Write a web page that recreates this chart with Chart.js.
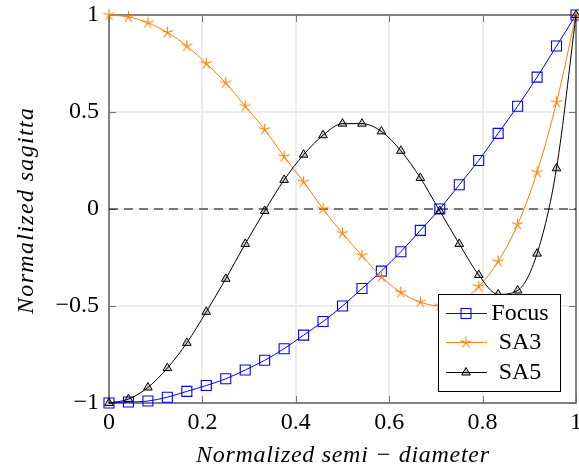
<!DOCTYPE html>
<html>
<head>
<meta charset="utf-8">
<script src="https://cdn.jsdelivr.net/npm/chart.js@4/dist/chart.umd.min.js"></script>
<style>
  html, body { margin: 0; padding: 0; background: #ffffff; }
  canvas { display: block; }
</style>
</head>
<body>
<canvas id="c" width="579" height="472"></canvas>
<script>
// ---- data ----
const xValues = [0, 0.0417, 0.0833, 0.125, 0.1667, 0.2083, 0.25, 0.2917, 0.3333, 0.375, 0.4167, 0.4583, 0.5,
                 0.5417, 0.5833, 0.625, 0.6667, 0.7083, 0.75, 0.7917, 0.8333, 0.875, 0.9167, 0.9583, 1];
const focusValues = [-1, -0.995, -0.99, -0.97, -0.94, -0.91, -0.875, -0.83, -0.78, -0.72, -0.65, -0.58, -0.5,
                     -0.41, -0.32, -0.22, -0.11, 0.0, 0.125, 0.25, 0.39, 0.53, 0.68, 0.84, 1];
const sa3Values = [1, 0.99, 0.96, 0.91, 0.84, 0.75, 0.65, 0.53, 0.41, 0.27, 0.14, 0.0, -0.125,
                   -0.24, -0.35, -0.43, -0.48, -0.5, -0.48, -0.4, -0.27, -0.08, 0.19, 0.55, 1];
const sa5Values = [-1, -0.98, -0.92, -0.82, -0.69, -0.53, -0.36, -0.18, -0.01, 0.15, 0.28, 0.38, 0.44,
                   0.44, 0.4, 0.3, 0.16, -0.01, -0.18, -0.34, -0.44, -0.42, -0.23, 0.21, 1];
const zeroLineX = [0, 1];
const zeroLineY = [0, 0];
const seriesNames = ['Focus', 'SA3', 'SA5'];
const xTicks = [0, 0.2, 0.4, 0.6, 0.8, 1];
const xTickLabels = ['0', '0.2', '0.4', '0.6', '0.8', '1'];
const yTicks = [-1, -0.5, 0, 0.5, 1];
const yTickLabels = ['\u22121', '\u22120.5', '0', '0.5', '1'];
const xTitle = 'Normalized semi \u2212 diameter';
const yTitle = 'Normalized sagitta';

// ---- styling ----
const FONT = "'Liberation Serif', 'Times New Roman', serif";
const BLUE = '#0000ff', ORANGE = '#ff8000', BLACK = '#000000';

function makeStar(color, r) {
  const s = Math.ceil(2 * r + 4);
  const c = document.createElement('canvas');
  c.width = s; c.height = s;
  const g = c.getContext('2d');
  g.strokeStyle = color; g.lineWidth = 1.1; g.lineCap = 'round';
  g.beginPath();
  for (let k = 0; k < 5; k++) {
    const a = -Math.PI / 2 + k * 2 * Math.PI / 5;
    g.moveTo(s / 2, s / 2);
    g.lineTo(s / 2 + r * Math.cos(a), s / 2 + r * Math.sin(a));
  }
  g.stroke();
  return c;
}
const starImg = makeStar(ORANGE, 5.5);

function pts(xs, ys) { return xs.map((x, i) => ({ x: x, y: ys[i] })); }

const seriesStyles = [
  { color: BLUE, pointStyle: 'rect', radius: 7.07, fill: 'rgba(255,255,255,0)', bw: 1.1 },
  { color: ORANGE, pointStyle: starImg, radius: 6, fill: ORANGE, bw: 1 },
  { color: BLACK, pointStyle: 'triangle', radius: 5, fill: 'rgba(0,0,0,0.2)', bw: 1 }
];
const seriesData = [focusValues, sa3Values, sa5Values];

const datasets = seriesData.map((vals, i) => ({
  label: seriesNames[i],
  data: pts(xValues, vals),
  borderColor: seriesStyles[i].color,
  borderWidth: 1,
  cubicInterpolationMode: 'monotone',
  pointStyle: seriesStyles[i].pointStyle,
  pointRadius: seriesStyles[i].radius,
  pointBorderColor: seriesStyles[i].color,
  pointBackgroundColor: seriesStyles[i].fill,
  pointBorderWidth: seriesStyles[i].bw,
  clip: false,
  order: 3 - i
}));
datasets.push({
  label: 'zero',
  data: pts(zeroLineX, zeroLineY),
  borderColor: '#000000',
  borderWidth: 1,
  borderDash: [9, 6],
  pointRadius: 0,
  order: 10
});

function drawSpaced(ctx, text, x, y, targetWidth) {
  const w0 = ctx.measureText(text).width;
  const n = text.length;
  let sp = (targetWidth - w0) / (n - 1);
  if ('letterSpacing' in ctx) {
    ctx.letterSpacing = sp.toFixed(2) + 'px';
    const w = ctx.measureText(text).width - sp;
    ctx.textAlign = 'left';
    ctx.fillText(text, x - w / 2, y);
    ctx.letterSpacing = '0px';
  } else {
    ctx.textAlign = 'center';
    ctx.fillText(text, x, y);
  }
}

const zeroPad = () => ({ left: 0, top: 0, right: 0, bottom: 0 });

const decorPlugin = {
  id: 'decor',
  beforeDatasetsDraw(chart) {
    const { ctx, chartArea: a, scales } = chart;
    const xs = scales.x, ys = scales.y;
    ctx.save();
    ctx.strokeStyle = '#777777';
    ctx.lineWidth = 1;
    const TL = 7;
    ctx.beginPath();
    xTicks.forEach(v => {
      const px = Math.round(xs.getPixelForValue(v)) + 0.5;
      ctx.moveTo(px, a.bottom); ctx.lineTo(px, a.bottom - TL);
      ctx.moveTo(px, a.top); ctx.lineTo(px, a.top + TL);
    });
    yTicks.forEach(v => {
      const py = Math.round(ys.getPixelForValue(v)) + 0.5;
      ctx.moveTo(a.left, py); ctx.lineTo(a.left + TL, py);
      ctx.moveTo(a.right, py); ctx.lineTo(a.right - TL, py);
    });
    ctx.stroke();
    ctx.strokeStyle = '#6a6a6a';
    ctx.lineWidth = 1.6;
    ctx.strokeRect(a.left, a.top, a.right - a.left, a.bottom - a.top);
    ctx.restore();
  },
  afterDraw(chart) {
    const { ctx, chartArea: a } = chart;
    ctx.save();
    // legend
    const L = { left: 438, top: 294, right: 560, bottom: 391 };
    ctx.fillStyle = '#ffffff';
    ctx.fillRect(L.left, L.top, L.right - L.left, L.bottom - L.top);
    ctx.strokeStyle = '#000000';
    ctx.lineWidth = 1;
    ctx.strokeRect(L.left + 0.5, L.top + 0.5, L.right - L.left, L.bottom - L.top);
    const rows = [313, 342, 372];
    seriesNames.forEach((name, i) => {
      const st = seriesStyles[i];
      const y = rows[i];
      ctx.strokeStyle = st.color;
      ctx.lineWidth = 1;
      ctx.beginPath();
      ctx.moveTo(446, y + 0.5); ctx.lineTo(487, y + 0.5);
      ctx.stroke();
      ctx.fillStyle = st.fill;
      ctx.strokeStyle = st.color;
      ctx.lineWidth = st.bw;
      Chart.helpers.drawPoint(ctx, { pointStyle: st.pointStyle, rotation: 0, radius: st.radius, borderWidth: st.bw }, 466, y + 0.5);
      ctx.fillStyle = '#000000';
      ctx.font = '24px ' + FONT;
      ctx.textAlign = 'center';
      ctx.textBaseline = 'middle';
      ctx.fillText(name, 520, y + 1);
    });
    // axis titles
    ctx.fillStyle = '#000000';
    ctx.font = 'italic 24px ' + FONT;
    ctx.textBaseline = 'alphabetic';
    drawSpaced(ctx, xTitle, (a.left + a.right) / 2, 462, 293);
    ctx.save();
    ctx.translate(33, 211);
    ctx.rotate(-Math.PI / 2);
    drawSpaced(ctx, yTitle, 0, 0, 206);
    ctx.restore();
    ctx.restore();
  }
};

new Chart(document.getElementById('c'), {
  type: 'line',
  data: { datasets: datasets },
  plugins: [decorPlugin],
  options: {
    responsive: false,
    animation: false,
    devicePixelRatio: 1,
    layout: { autoPadding: false, padding: { top: 15, right: 3, left: 0, bottom: 0 } },
    plugins: { legend: { display: false }, tooltip: { enabled: false } },
    scales: {
      x: {
        type: 'linear', min: 0, max: 1,
        afterBuildTicks: s => { s.ticks = xTicks.map(v => ({ value: v })); },
        afterFit: s => { s.height = 69; s.paddingLeft = 0; s.paddingRight = 0; s.getPadding = zeroPad; },
        grid: { color: '#ececec', lineWidth: 2, drawTicks: false },
        border: { display: false },
        ticks: {
          padding: 5, color: '#000000', maxRotation: 0, autoSkip: false,
          font: { family: FONT, size: 24 },
          callback: (v, i) => xTickLabels[i]
        }
      },
      y: {
        type: 'linear', min: -1, max: 1,
        afterBuildTicks: s => { s.ticks = yTicks.map(v => ({ value: v })); },
        afterFit: s => { s.width = 109; s.paddingTop = 0; s.paddingBottom = 0; s.getPadding = zeroPad; },
        grid: { color: '#ececec', lineWidth: 2, drawTicks: false },
        border: { display: false },
        ticks: {
          padding: 10, color: '#000000', autoSkip: false,
          font: { family: FONT, size: 24 },
          callback: (v, i) => yTickLabels[i]
        }
      }
    }
  }
});
</script>
</body>
</html>
